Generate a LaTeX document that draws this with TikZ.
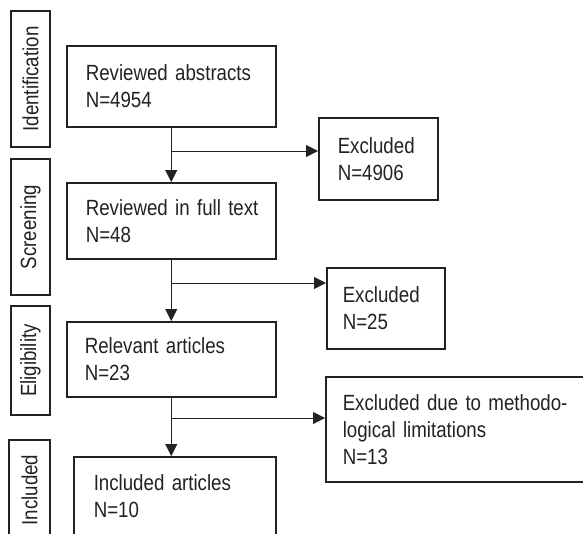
\documentclass[tikz,border=0pt]{standalone}
\usepackage{fontspec}
\setmainfont[FakeStretch=0.85, WordSpace=0.85]{Liberation Sans}
\usetikzlibrary{arrows.meta}
\definecolor{ink}{HTML}{222222}
\begin{document}
\begin{tikzpicture}[x=1pt,y=-1pt,
  box/.style={draw=ink, line width=1.5pt, anchor=north west, align=left,
    inner ysep=0pt, font=\fontsize{22}{27}\selectfont, text=ink},
  stage/.style={draw=ink, line width=1.5pt, rotate=90, inner sep=0pt,
    font=\fontsize{22}{27}\selectfont, text=ink},
  conn/.style={draw=ink, line width=1pt},
  arr/.style={conn, -{Triangle[length=12pt,width=12pt]}}]
\useasboundingbox (0,0) rectangle (583,533);

% stage labels
\node[stage, minimum width=136pt, minimum height=39pt] (idlab) at (30.5,79) {Identification};
\node[stage, minimum width=136pt, minimum height=39pt] (scrlab) at (30.5,227) {Screening};
\node[stage, minimum width=109pt, minimum height=39pt] (elilab) at (30.5,360.5) {Eligibility};
\node[stage, minimum width=100pt, minimum height=41pt] (inclab) at (29.5,490) {Included};

% main boxes
\node[box, inner xsep=19pt, text width=171pt, minimum height=81pt] (b1) at (66,45) {\mbox{Reviewed abstracts}\\N=4954};
\node[box, inner xsep=19pt, text width=171pt, minimum height=76pt] (b2) at (66,182) {\mbox{Reviewed in full text}\\N=48};
\node[box, inner xsep=18pt, text width=173pt, minimum height=75pt] (b3) at (66,321) {\mbox{Relevant articles}\\N=23};
\node[box, inner xsep=20pt, text width=162pt, minimum height=79pt] (b4) at (73,456) {\mbox{Included articles}\\N=10};

% excluded boxes
\node[box, inner xsep=19pt, text width=81pt, minimum height=82pt] (e1) at (318,117) {Excluded\\N=4906};
\node[box, inner xsep=16pt, text width=86pt, minimum height=81pt] (e2) at (326,267) {Excluded\\N=25};
\node[box, inner xsep=17pt, text width=266pt, minimum height=105pt] (e3) at (325,376) {\mbox{Excluded due to methodo-}\\\mbox{logical limitations}\\N=13};

% connectors
\coordinate (j1) at (b1.south |- 0,151);
\coordinate (j2) at (b2.south |- 0,283);
\coordinate (j3) at (b3.south |- 0,418);
\draw[arr] (b1.south) -- (b2.north);
\draw[arr] (b2.south) -- (b3.north);
\draw[arr] (b3.south) -- (b3.south |- b4.north);
\draw[arr] (j1) -- (j1 -| e1.west);
\draw[arr] (j2) -- (j2 -| e2.west);
\draw[arr] (j3) -- (j3 -| e3.west);
\end{tikzpicture}
\end{document}
